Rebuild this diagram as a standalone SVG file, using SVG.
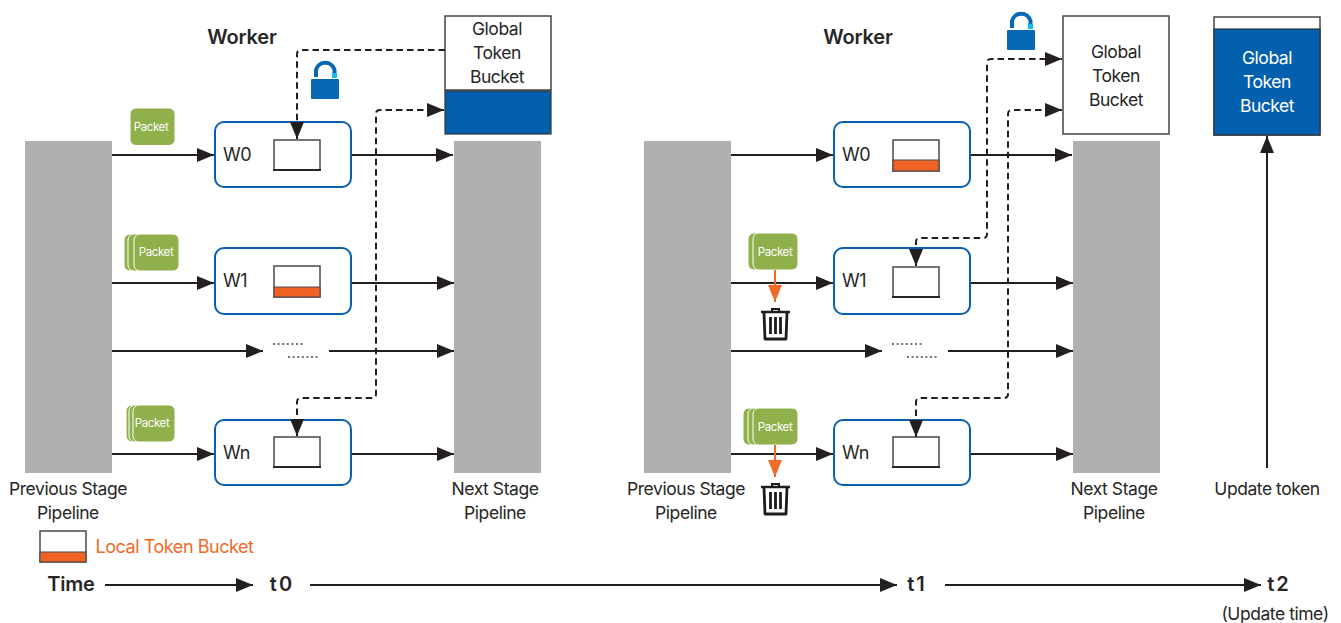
<svg xmlns="http://www.w3.org/2000/svg" xmlns:xlink="http://www.w3.org/1999/xlink" width="1341" height="623" viewBox="0 0 1341 623">
<style>
text{font-family:"Inter","Liberation Sans",sans-serif;fill:#262626;font-size:17.5px;letter-spacing:-.45px;text-anchor:middle}
.b{font-weight:600;font-size:20px;letter-spacing:-.2px}
.w{text-anchor:start;font-size:18px}
.pk{fill:#fff;font-size:11.5px;letter-spacing:-.4px}
.gray{fill:#b1afb0}
.wk{fill:#fff;stroke:#0860ae;stroke-width:2}
.lb{fill:#fff;stroke:#4a4a4a;stroke-width:1.5}
.lf{fill:#262626}
.or{fill:#ee6223;stroke:#4a4a4a;stroke-width:1}
.gt{fill:#fff;stroke:#444;stroke-width:1.5}
.bl{fill:#0360ae;stroke:#333;stroke-width:1.2}
.pa{fill:#8fb04a;stroke:#fff;stroke-width:1}
.c{fill:none;stroke:#231f20;stroke-width:2}
.d{fill:none;stroke:#231f20;stroke-width:2;stroke-dasharray:6.500 4}
.o{fill:none;stroke:#ee6a26;stroke-width:2}
.dots{fill:none;stroke:#444;stroke-width:1.6;stroke-dasharray:2 2.6}
</style>
<defs>
<marker id="a" markerUnits="userSpaceOnUse" markerWidth="18" markerHeight="14" refX="17" refY="7" orient="auto-start-reverse"><path d="M0 0L17 7L0 14Z" fill="#231f20"/></marker>
<marker id="ao" markerUnits="userSpaceOnUse" markerWidth="18" markerHeight="14" refX="17" refY="7" orient="auto"><path d="M0 0L17 7L0 14Z" fill="#ee6a26"/></marker>
<g id="lock"><path d="M-9 -8V-15A9.500 9.500 0 0 1 9.500 -15V-11" fill="none" stroke="#0868b4" stroke-width="4"/><rect x="7" y="-12" width="5" height="5" fill="#10bdf0"/><rect x="-14" y="-6" width="28" height="20" rx="1" fill="#0868b4"/></g>
<g id="bin" fill="none" stroke="#1c1c1c"><path d="M-14 -11H15" stroke-width="2.500"/><path d="M-3 -12V-14H4V-12" stroke-width="2"/><path d="M-11 -10L-10 16H11L12 -10" stroke-width="2.800" stroke-linejoin="round"/><path d="M-4.500 -6V11M.5 -6V11M5.500 -6V11" stroke-width="2.800"/></g>
</defs>

<g id="connectors">
<path class="c" marker-end="url(#a)" d="M112 155H214"/>
<path class="c" marker-end="url(#a)" d="M351 155H453"/>
<path class="c" marker-end="url(#a)" d="M112 283H214"/>
<path class="c" marker-end="url(#a)" d="M351 283H454"/>
<path class="c" marker-end="url(#a)" d="M112 351H263"/>
<path class="c" marker-end="url(#a)" d="M329 351H454"/>
<path class="c" marker-end="url(#a)" d="M112 454H214"/>
<path class="c" marker-end="url(#a)" d="M351 454H454"/>
<path class="c" marker-end="url(#a)" d="M731 155H833"/>
<path class="c" marker-end="url(#a)" d="M970 155H1072"/>
<path class="c" marker-end="url(#a)" d="M731 283H833"/>
<path class="c" marker-end="url(#a)" d="M970 283H1073"/>
<path class="c" marker-end="url(#a)" d="M731 351H882"/>
<path class="c" marker-end="url(#a)" d="M948 351H1073"/>
<path class="c" marker-end="url(#a)" d="M731 454H833"/>
<path class="c" marker-end="url(#a)" d="M970 454H1073"/>
<path class="c" marker-end="url(#a)" d="M1267 468V136"/>
<path class="c" marker-end="url(#a)" d="M105 585H253"/>
<path class="c" marker-end="url(#a)" d="M310 585H897"/>
<path class="c" marker-end="url(#a)" d="M945 585H1261"/>
</g>

<g id="prev-left"><rect class="gray" x="25" y="141" width="87" height="332"/><text x="68" y="495">Previous Stage</text><text x="68" y="519">Pipeline</text></g>
<g id="next-left"><rect class="gray" x="454" y="141" width="87" height="332"/><text x="495" y="495">Next Stage</text><text x="495" y="519">Pipeline</text></g>
<g id="prev-right"><rect class="gray" x="644" y="141" width="87" height="332"/><text x="686" y="495">Previous Stage</text><text x="686" y="519">Pipeline</text></g>
<g id="next-right"><rect class="gray" x="1073" y="141" width="87" height="332"/><text x="1114" y="495">Next Stage</text><text x="1114" y="519">Pipeline</text></g>

<text class="b" x="242" y="44">Worker</text>
<text class="b" x="858" y="44">Worker</text>

<g id="w0-left"><rect class="wk" x="215" y="122" width="136" height="65" rx="9"/><text class="w" x="223" y="161">W0</text><rect class="lb" x="274" y="140" width="46" height="30"/><rect class="lf" x="273" y="169" width="48" height="2"/></g>
<g id="w1-left"><rect class="wk" x="215" y="248" width="136" height="66" rx="9"/><text class="w" x="223" y="287">W1</text><rect class="lb" x="274" y="266" width="46" height="31"/><rect class="or" x="274" y="287" width="46" height="10"/></g>
<g id="wn-left"><rect class="wk" x="215" y="420" width="136" height="65" rx="9"/><text class="w" x="223" y="459">Wn</text><rect class="lb" x="274" y="437" width="46" height="30"/><rect class="lf" x="273" y="466" width="48" height="2"/></g>

<g id="w0-right"><rect class="wk" x="834" y="122" width="136" height="65" rx="9"/><text class="w" x="842" y="161">W0</text><rect class="lb" x="893" y="140" width="46" height="31"/><rect class="or" x="893" y="160" width="46" height="11"/></g>
<g id="w1-right"><rect class="wk" x="834" y="248" width="136" height="66" rx="9"/><text class="w" x="842" y="287">W1</text><rect class="lb" x="893" y="267" width="46" height="30"/><rect class="lf" x="892" y="296" width="48" height="2"/></g>
<g id="wn-right"><rect class="wk" x="834" y="420" width="136" height="65" rx="9"/><text class="w" x="842" y="459">Wn</text><rect class="lb" x="893" y="437" width="46" height="30"/><rect class="lf" x="892" y="466" width="48" height="2"/></g>

<g id="gtb-left"><rect class="gt" x="445" y="16" width="106" height="74"/><rect class="bl" x="445" y="91" width="106" height="43"/><text x="497" y="35">Global</text><text x="497" y="59">Token</text><text x="497" y="83">Bucket</text></g>
<g id="gtb-right"><rect class="gt" x="1063" y="16" width="106" height="118"/><text x="1116" y="58">Global</text><text x="1116" y="82">Token</text><text x="1116" y="106">Bucket</text></g>
<g id="gtb-updated"><rect class="gt" x="1214" y="17" width="106" height="118"/><rect class="bl" x="1214" y="29" width="106" height="106"/><text x="1267" y="64" style="fill:#fff">Global</text><text x="1267" y="88" style="fill:#fff">Token</text><text x="1267" y="112" style="fill:#fff">Bucket</text></g>

<g id="dashed-connectors">
<path class="d" marker-end="url(#a)" d="M445 50H301Q297 50 297 54V139"/>
<path class="d" marker-start="url(#a)" marker-end="url(#a)" d="M297 436V402Q297 398 301 398H372Q376 398 376 394V114Q376 110 380 110H444"/>
<path class="d" marker-start="url(#a)" marker-end="url(#a)" d="M916 266V242Q916 238 920 238H983Q987 238 987 234V63Q987 59 991 59H1062"/>
<path class="d" marker-start="url(#a)" marker-end="url(#a)" d="M916 437V402Q916 398 920 398H1004Q1008 398 1008 394V114Q1008 110 1012 110H1062"/>
</g>

<use xlink:href="#lock" href="#lock" x="325" y="85"/>
<use xlink:href="#lock" href="#lock" x="1021" y="36"/>

<g id="packet-1"><rect class="pa" x="130" y="108" width="45" height="37.500" rx="6"/><text class="pk" x="151" y="131">Packet</text></g>
<g id="packet-2"><rect class="pa" x="124" y="234" width="42" height="37" rx="6"/><rect class="pa" x="128" y="234" width="42" height="37" rx="6"/><rect class="pa" x="134" y="234" width="45" height="37" rx="6"/><text class="pk" x="156" y="256">Packet</text></g>
<g id="packet-3"><rect class="pa" x="126" y="405" width="42" height="37" rx="6"/><rect class="pa" x="129" y="405" width="42" height="37" rx="6"/><rect class="pa" x="133" y="405" width="42" height="37" rx="6"/><text class="pk" x="152" y="427">Packet</text></g>
<g id="packet-4"><rect class="pa" x="748" y="233" width="42" height="37" rx="6"/><rect class="pa" x="753" y="233" width="45" height="37" rx="6"/><text class="pk" x="775" y="256">Packet</text></g>
<g id="packet-5"><rect class="pa" x="743" y="408" width="42" height="37" rx="6"/><rect class="pa" x="748" y="408" width="42" height="37" rx="6"/><rect class="pa" x="753" y="408" width="45" height="37" rx="6"/><text class="pk" x="775" y="431">Packet</text></g>

<path class="o" marker-end="url(#ao)" d="M775 270V302"/>
<path class="o" marker-end="url(#ao)" d="M775 445V477"/>
<use xlink:href="#bin" href="#bin" x="775" y="323"/>
<use xlink:href="#bin" href="#bin" x="775" y="498"/>

<path class="dots" d="M273 344H304M288 357H320M892 344H923M907 357H939"/>

<g id="legend"><rect class="lb" x="40" y="531" width="46" height="31"/><rect class="or" x="40" y="552" width="46" height="10"/><text x="174.500" y="553" style="fill:#ee6a26;font-size:18px">Local Token Bucket</text></g>
<text class="b" x="71" y="591">Time</text>
<text class="b" x="282" y="591" style="letter-spacing:2px">t0</text>
<text class="b" x="917" y="591" style="letter-spacing:2px">t1</text>
<text class="b" x="1279" y="591" style="letter-spacing:2px">t2</text>
<text x="1267" y="495">Update token</text>
<text x="1275" y="620">(Update time)</text>
</svg>
